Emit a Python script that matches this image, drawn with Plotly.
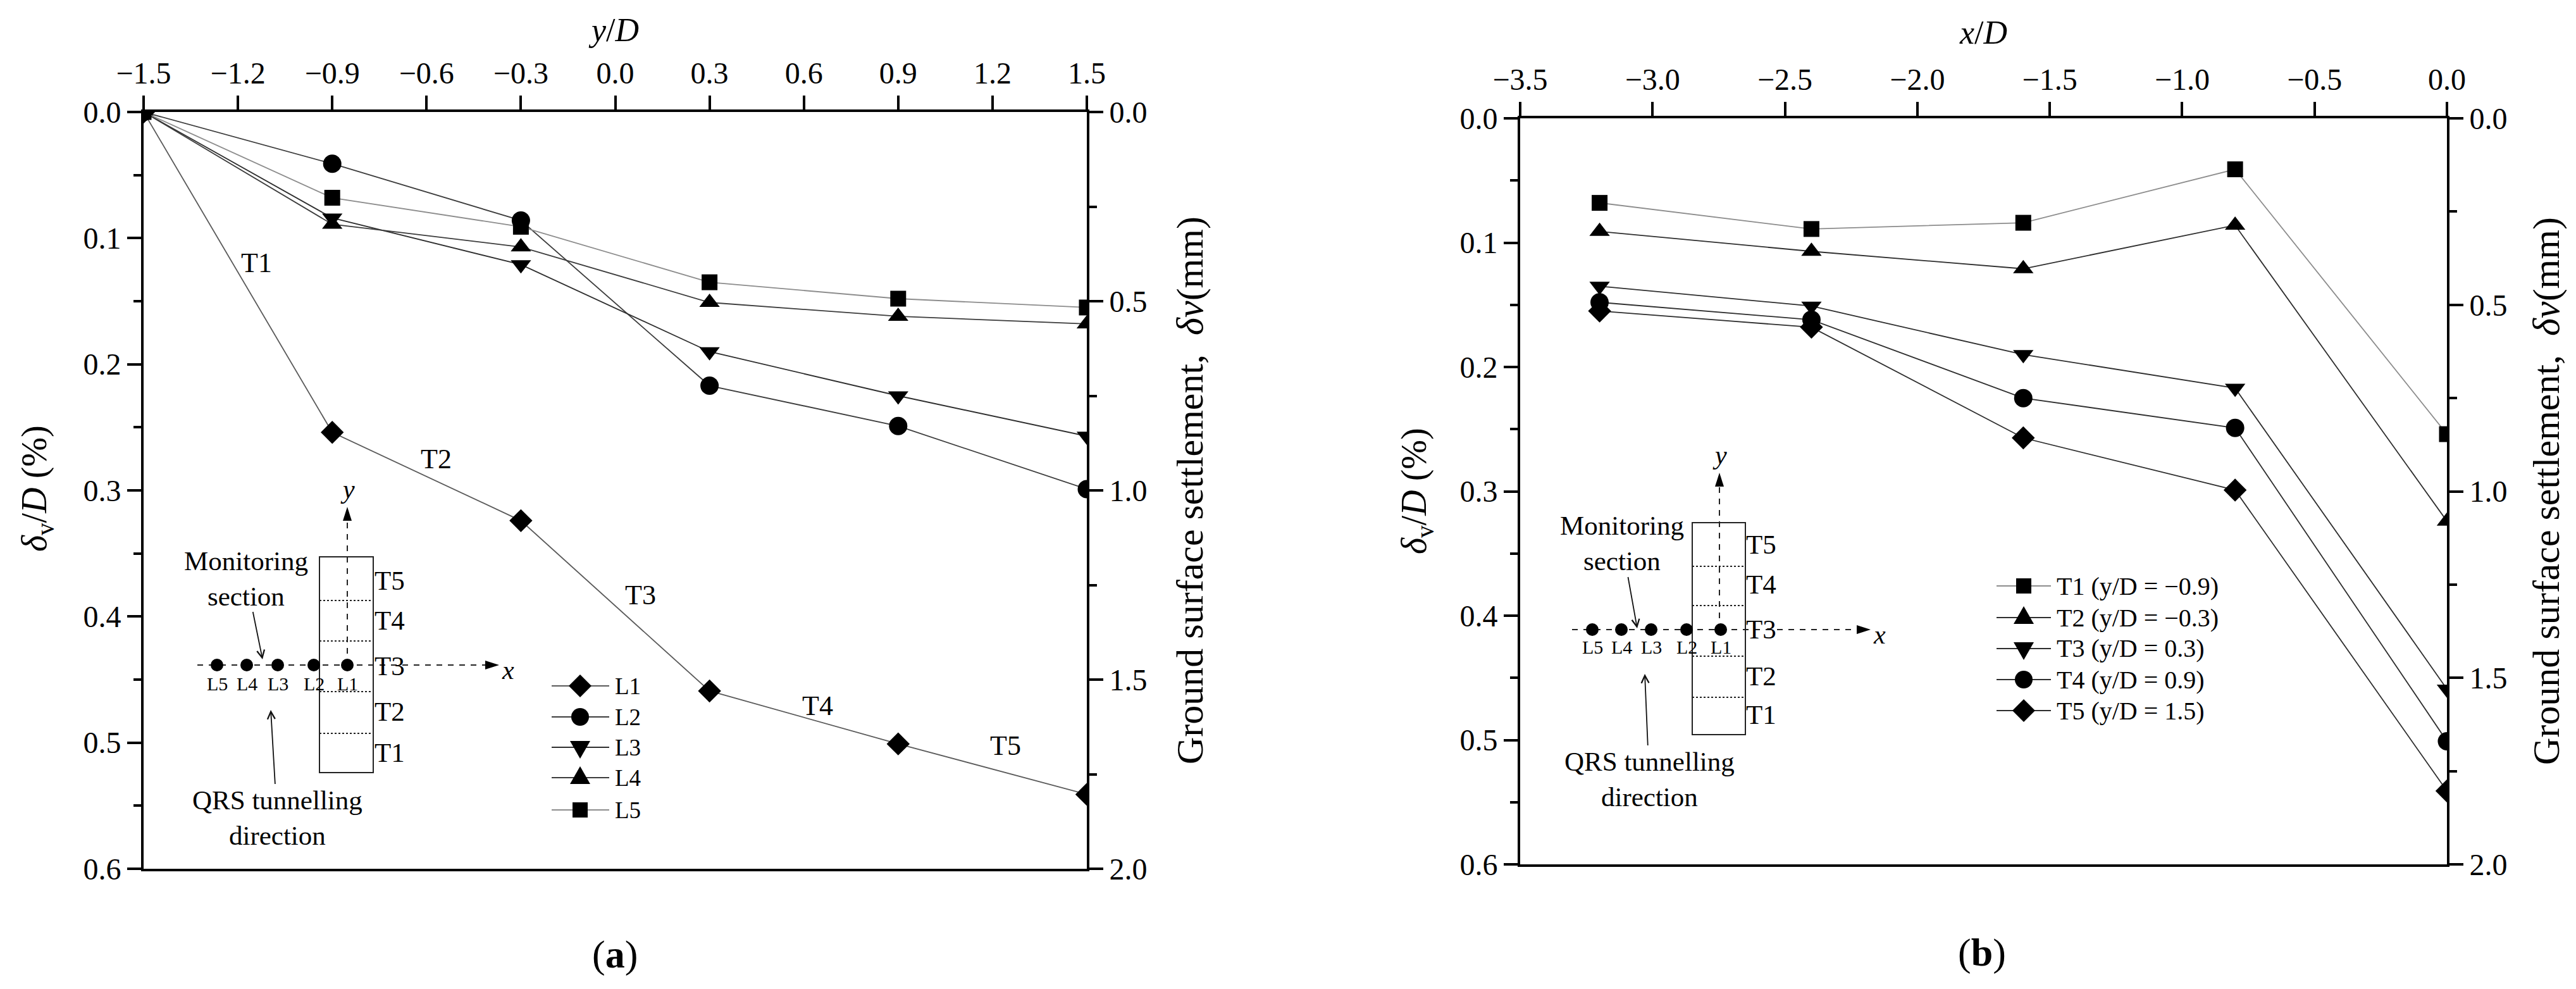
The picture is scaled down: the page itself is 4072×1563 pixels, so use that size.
import plotly.graph_objects as go

W, H = 4072, 1563
FONT = "Liberation Serif"

# ---------------- data ----------------
# lateral positions of monitoring lines, ordered L5, L4, L3, L2, L1 (x/D)
x_over_D = [-3.2, -2.4, -1.6, -0.8, 0.0]
# longitudinal positions: start point followed by sections T1..T5 (y/D)
y_over_D = [-1.5, -0.9, -0.3, 0.3, 0.9, 1.5]
start_value = 0.0
# settlement delta_v/D (%) at sections T1..T5, ordered L5, L4, L3, L2, L1
T1 = [0.068, 0.089, 0.084, 0.041, 0.254]
T2 = [0.091, 0.107, 0.121, 0.086, 0.324]
T3 = [0.135, 0.151, 0.190, 0.217, 0.459]
T4 = [0.148, 0.162, 0.225, 0.249, 0.501]
T5 = [0.155, 0.168, 0.257, 0.299, 0.541]
sections = [T1, T2, T3, T4, T5]
section_names = ["T1", "T2", "T3", "T4", "T5"]
section_yD_text = ["\u22120.9", "\u22120.3", "0.3", "0.9", "1.5"]
line_names = ["L1", "L2", "L3", "L4", "L5"]

ya_tickvals = [-1.5, -1.2, -0.9, -0.6, -0.3, 0.0, 0.3, 0.6, 0.9, 1.2, 1.5]
ya_ticktext = ["\u22121.5", "\u22121.2", "\u22120.9", "\u22120.6", "\u22120.3", "0.0",
               "0.3", "0.6", "0.9", "1.2", "1.5"]
xb_tickvals = [-3.5, -3.0, -2.5, -2.0, -1.5, -1.0, -0.5, 0.0]
xb_ticktext = ["\u22123.5", "\u22123.0", "\u22122.5", "\u22122.0", "\u22121.5",
               "\u22121.0", "\u22120.5", "0.0"]
left_tickvals = [0.0, 0.1, 0.2, 0.3, 0.4, 0.5, 0.6]
right_tickvals = [0.0, 0.5, 1.0, 1.5, 2.0]

# ---------------- styles ----------------
a_symbols = {"L1": "diamond", "L2": "circle", "L3": "triangle-down",
             "L4": "triangle-up", "L5": "square"}
a_colors = {"L1": "#5a5a5a", "L2": "#3c3c3c", "L3": "#2e2e2e",
            "L4": "#3c3c3c", "L5": "#8c8c8c"}
b_symbols = {"T1": "square", "T2": "triangle-up", "T3": "triangle-down",
             "T4": "circle", "T5": "diamond"}
b_colors = {"T1": "#8c8c8c", "T2": "#2e2e2e", "T3": "#2e2e2e",
            "T4": "#2e2e2e", "T5": "#2e2e2e"}
msize = {"diamond": 28, "circle": 29, "triangle-down": 28, "triangle-up": 28, "square": 25}

fig = go.Figure()

# panel (a): settlement along each monitoring line
for name in line_names:
    idx = 4 - line_names.index(name)  # position within L5..L1 ordering
    vals = [start_value] + [sec[idx] for sec in sections]
    sym = a_symbols[name]
    fig.add_trace(go.Scatter(
        x=y_over_D, y=vals, name=name, mode="lines+markers",
        xaxis="x", yaxis="y", showlegend=False,
        line=dict(color=a_colors[name], width=1.8),
        marker=dict(symbol=sym, size=msize[sym], color="black"),
    ))

# panel (b): settlement across each section
for name, sec, ytxt in zip(section_names, sections, section_yD_text):
    sym = b_symbols[name]
    fig.add_trace(go.Scatter(
        x=x_over_D, y=sec, name=f"{name} (y/D = {ytxt})", mode="lines+markers",
        xaxis="x2", yaxis="y2", showlegend=False,
        line=dict(color=b_colors[name], width=1.8),
        marker=dict(symbol=sym, size=msize[sym], color="black"),
    ))

# empty traces so that the secondary (mm) axes are drawn
fig.add_trace(go.Scatter(x=[None], y=[None], xaxis="x", yaxis="y3", showlegend=False,
                         hoverinfo="skip", mode="markers"))
fig.add_trace(go.Scatter(x=[None], y=[None], xaxis="x2", yaxis="y4", showlegend=False,
                         hoverinfo="skip", mode="markers"))

# ---------------- axes ----------------
def px_dom_x(x0, x1):
    return [x0 / W, x1 / W]

def px_dom_y(top, bottom):
    return [1 - bottom / H, 1 - top / H]

A_BOX = (219, 169, 1710, 1365)   # left, top, right, bottom (px)
B_BOX = (2395, 179, 3860, 1358)

tickfont = dict(family=FONT, size=48, color="black")
axis_common = dict(showgrid=False, zeroline=False, showline=True, linecolor="black",
                   linewidth=4, ticks="outside", ticklen=22, tickwidth=4,
                   tickcolor="black", tickfont=tickfont, automargin=False)

def yleft(box, anchor):
    return dict(axis_common, domain=px_dom_y(box[1], box[3]), range=[0.6, 0.0],
                anchor=anchor, tickvals=left_tickvals, tickformat=".1f", side="left",
                minor=dict(dtick=0.05, ticks="outside", ticklen=12, tickwidth=4,
                           tickcolor="black"))

def yright(over, anchor):
    return dict(axis_common, overlaying=over, anchor=anchor, side="right",
                range=[2.0, 0.0], tickvals=right_tickvals, tickformat=".1f",
                minor=dict(dtick=0.25, ticks="outside", ticklen=12, tickwidth=4,
                           tickcolor="black"))

fig.update_layout(
    width=W, height=H,
    margin=dict(l=0, r=0, t=0, b=0),
    paper_bgcolor="white", plot_bgcolor="white",
    font=dict(family=FONT, color="black"),
    showlegend=False,
    xaxis=dict(axis_common, domain=px_dom_x(A_BOX[0], A_BOX[2]), anchor="y", side="top",
               mirror=True, range=[-1.5, 1.5], tickvals=ya_tickvals, ticktext=ya_ticktext,
               title=dict(text="<i>y</i>/<i>D</i>", font=dict(family=FONT, size=52, color="black"),
                          standoff=8)),
    yaxis=yleft(A_BOX, "x"),
    yaxis3=yright("y", "x"),
    xaxis2=dict(axis_common, domain=px_dom_x(B_BOX[0], B_BOX[2]), anchor="y2", side="top",
                mirror=True, range=[-3.5, 0.0], tickvals=xb_tickvals, ticktext=xb_ticktext,
                title=dict(text="<i>x</i>/<i>D</i>", font=dict(family=FONT, size=52, color="black"),
                           standoff=14)),
    yaxis2=yleft(B_BOX, "x2"),
    yaxis4=yright("y2", "x2"),
)

# ---------------- annotations / schematic insets ----------------
shapes = []
annots = []

def P(px, py):
    return px / W, 1 - py / H

def text(px, py, s, size, xanchor="center", italic=False, angle=0):
    x, y = P(px, py)
    font = dict(family=FONT, size=size, color="black")
    if italic:
        font["style"] = "italic"
    annots.append(dict(x=x, y=y, xref="paper", yref="paper", text=s, showarrow=False,
                       xanchor=xanchor, yanchor="middle", textangle=angle, font=font))

def seg(x0, y0, x1, y1, dash="solid", width=2, color="#222"):
    a, b = P(x0, y0)
    c, d = P(x1, y1)
    shapes.append(dict(type="line", xref="paper", yref="paper", x0=a, y0=b, x1=c, y1=d,
                       line=dict(color=color, width=width, dash=dash)))

def poly(points, color="black"):
    parts = []
    for i, (px_, py_) in enumerate(points):
        x, y = P(px_, py_)
        parts.append(("M" if i == 0 else "L") + f"{x:.6f},{y:.6f}")
    shapes.append(dict(type="path", xref="paper", yref="paper", path=" ".join(parts) + " Z",
                       fillcolor=color, line=dict(color=color, width=0)))

def dot(cx, cy, r):
    shapes.append(dict(type="circle", xref="paper", yref="paper",
                       x0=(cx - r) / W, x1=(cx + r) / W,
                       y0=1 - (cy + r) / H, y1=1 - (cy - r) / H,
                       fillcolor="black", line=dict(color="black", width=0)))

def symbol_shape(sym, cx, cy):
    if sym == "circle":
        dot(cx, cy, 14)
    elif sym == "square":
        h = 12
        poly([(cx - h, cy - h), (cx + h, cy - h), (cx + h, cy + h), (cx - h, cy + h)])
    elif sym == "diamond":
        h = 18
        poly([(cx, cy - h), (cx + h, cy), (cx, cy + h), (cx - h, cy)])
    elif sym == "triangle-up":
        poly([(cx, cy - 18), (cx + 16, cy + 10), (cx - 16, cy + 10)])
    elif sym == "triangle-down":
        poly([(cx, cy + 18), (cx + 16, cy - 10), (cx - 16, cy - 10)])

def labelled_arrow(label, size, hx, hy, tx, ty):
    # text centred at (tx, ty) with an arrow pointing to (hx, hy)
    x, y = P(hx, hy)
    annots.append(dict(x=x, y=y, xref="paper", yref="paper", text=label, showarrow=True,
                       ax=tx - hx, ay=ty - hy, arrowhead=5, arrowsize=1.3,
                       arrowwidth=1.8, arrowcolor="#111", standoff=0,
                       font=dict(family=FONT, size=size, color="black")))

def inset(c):
    L, T, R, B = c["rect"]
    a, b = P(L, T)
    cc, d = P(R, B)
    shapes.append(dict(type="rect", xref="paper", yref="paper", x0=a, y0=b, x1=cc, y1=d,
                       line=dict(color="#222", width=2)))
    for yy in c["dots_y"]:
        seg(L, yy, R, yy, dash="dot", width=2)
    ax_y = c["axis_y"]
    xe = c["xaxis_x1"]
    seg(c["xaxis_x0"], ax_y, xe - 18, ax_y, dash="dash", width=2)
    poly([(xe, ax_y), (xe - 22, ax_y - 7), (xe - 22, ax_y + 7)])
    text(xe + 14, ax_y + 8, "x", 42, italic=True)
    yx = c["yaxis_x"]
    yt = c["yaxis_top"]
    seg(yx, ax_y, yx, yt + 18, dash="dash", width=2)
    poly([(yx, yt), (yx - 7, yt + 22), (yx + 7, yt + 22)])
    text(yx, yt - 28, "y", 42, italic=True)
    for px_, lab in zip(c["dot_x"], ["L5", "L4", "L3", "L2", "L1"]):
        dot(px_, ax_y, 10)
        text(px_, c["lab_y"], lab, 30)
    for lab, yy in zip(["T5", "T4", "T3", "T2", "T1"], c["t_y"]):
        text(c["t_x"], yy, lab, 43)
    labelled_arrow("Monitoring<br>section", 43, c["mon_head"][0], c["mon_head"][1],
                   c["mon"][0], c["mon"][1])
    labelled_arrow("QRS tunnelling<br>direction", 43, c["qrs_head"][0], c["qrs_head"][1],
                   c["qrs"][0], c["qrs"][1])

inset(dict(rect=(497, 872, 582, 1213), dots_y=[941, 1005, 1085, 1151], axis_y=1043,
           xaxis_x0=304, xaxis_x1=781, yaxis_x=541, yaxis_top=793,
           dot_x=[335, 382, 431, 488, 541], lab_y=1072,
           t_x=608, t_y=[909, 972, 1044, 1116, 1181],
           mon=(381, 906), mon_head=(407, 1034),
           qrs=(430, 1284), qrs_head=(420, 1114)))

inset(dict(rect=(2667, 818, 2751, 1153), dots_y=[887, 949, 1029, 1094], axis_y=987,
           xaxis_x0=2477, xaxis_x1=2949, yaxis_x=2710, yaxis_top=739,
           dot_x=[2509, 2555, 2602, 2658, 2712], lab_y=1014,
           t_x=2776, t_y=[852, 916, 986, 1060, 1121],
           mon=(2556, 851), mon_head=(2580, 985),
           qrs=(2599, 1223), qrs_head=(2592, 1057)))

# section labels along line L1 in panel (a)
for lab, (px_, py_) in zip(section_names, [(397, 407), (681, 717), (1004, 932),
                                           (1284, 1107), (1581, 1170)]):
    text(px_, py_, lab, 44)

# ---------------- legends (Origin style: line-symbol-line) ----------------
def legend_block(names, symbols, colors, x_line0, x_sym, x_line1, x_text, ys, size):
    for nm, sym, col, yy in zip(names, symbols, colors, ys):
        seg(x_line0, yy, x_line1, yy, width=2, color=col)
        symbol_shape(sym, x_sym, yy)
        text(x_text, yy, nm, size, xanchor="left")

legend_block(line_names, [a_symbols[n] for n in line_names], [a_colors[n] for n in line_names],
             864, 909, 955, 962, [1076, 1125, 1173, 1221, 1272], 37)
legend_block([f"{n} (y/D = {t})" for n, t in zip(section_names, section_yD_text)],
             [b_symbols[n] for n in section_names], [b_colors[n] for n in section_names],
             3148, 3191, 3234, 3241, [918, 968, 1017, 1066, 1115], 40)

# ---------------- titles of the vertical axes ----------------
left_title = "<i>\u03b4</i><sub>v</sub>/<i>D</i> (%)"
right_title = "Ground surface settlement,\u2002<i>\u03b4v</i>(mm)"
text(50, 764, left_title, 56, angle=-90)
text(2231, 768, left_title, 56, angle=-90)
text(1873, 767, right_title, 60, angle=-90)
text(4017, 768, right_title, 60, angle=-90)

# panel captions
text(964, 1500, "(<b>a</b>)", 62)
text(3125, 1497, "(<b>b</b>)", 62)

fig.update_layout(shapes=shapes, annotations=annots)
fig.write_html("out.html")
